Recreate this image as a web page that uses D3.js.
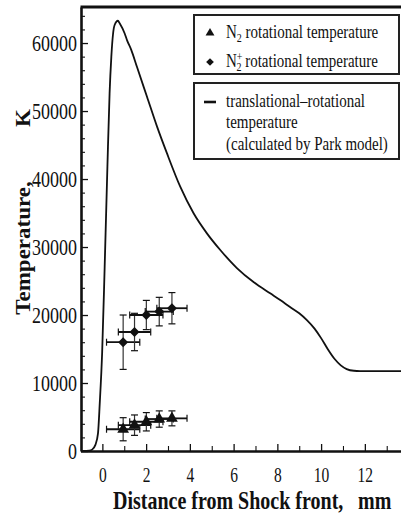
<!DOCTYPE html>
<html>
<head>
<meta charset="utf-8">
<script src="https://cdn.jsdelivr.net/npm/d3@7"></script>
<style>
  body { margin: 0; background: #fff; }
  text { font-family: "Liberation Serif", "Times New Roman", serif; fill: #111; }
</style>
</head>
<body>
<svg id="chart" width="401" height="520"></svg>
<script>
// tick labels
const xTicks = [0, 2, 4, 6, 8, 10, 12, 14];
const yTicks = [0, 10000, 20000, 30000, 40000, 50000, 60000];

// N2 rotational temperature (triangles)
const n2X = [0.95, 1.47, 2.01, 2.60, 3.18];
const n2XErr = [0.76, 0.74, 0.76, 0.64, 0.69];
const n2T = [3200, 3800, 4300, 4700, 4800];
const n2TErr = [1700, 1500, 1350, 1200, 1100];

// N2+ rotational temperature (diamonds)
const n2pX = [0.95, 1.47, 2.01, 2.60, 3.18];
const n2pXErr = [0.76, 0.74, 0.76, 0.64, 0.69];
const n2pT = [16000, 17500, 20000, 20500, 21000];
const n2pTErr = [4000, 2750, 2150, 2100, 2300];

// translational-rotational temperature (Park model)
const parkX = [-0.95, -0.6, -0.47, -0.32, -0.2, -0.12, -0.01, 0.105, 0.23, 0.33, 0.41, 0.49,
  0.56, 0.71, 0.79, 1.02, 1.13, 1.32, 1.58, 2.04, 2.50, 2.95, 3.56, 4.17, 4.78, 5.39,
  6.15, 6.91, 7.67, 8.13, 8.58, 9.0, 9.35, 9.7, 10.0, 10.3, 10.6, 10.9, 11.17, 11.5, 11.78, 13.8];
const parkT = [0, 50, 200, 900, 2600, 7000, 14500, 27100, 41800, 52600, 58000, 61400,
  62650, 63280, 62900, 61400, 60400, 59000, 56500, 52100, 47700, 43800, 38870, 34960, 32010, 29560,
  26910, 24850, 23190, 22200, 21180, 20250, 19250, 18000, 16600, 15000, 13600, 12600, 12050, 11800, 11760, 11760];

const svg = d3.select("#chart");

// scales
const x = d3.scaleLinear().domain([-1, 14]).range([80.5, 408.6]);
const y = d3.scaleLinear().domain([0, 65300]).range([451, 7]);

// minor ticks
svg.append("g")
  .attr("transform", "translate(0,451)")
  .call(d3.axisBottom(x).tickValues(d3.range(1, 14, 2)).tickSizeInner(-5).tickSizeOuter(0).tickFormat(""))
  .call(g => g.select(".domain").remove())
  .call(g => g.selectAll("line").attr("stroke", "#111").attr("stroke-width", 1.1));
svg.append("g")
  .attr("transform", "translate(81,0)")
  .call(d3.axisLeft(y).tickValues(d3.range(2000, 65000, 2000).filter(v => v % 10000)).tickSizeInner(-4).tickSizeOuter(0).tickFormat(""))
  .call(g => g.select(".domain").remove())
  .call(g => g.selectAll("line").attr("stroke", "#111").attr("stroke-width", 1.1));

// x axis
const xAxis = svg.append("g")
  .attr("transform", "translate(0,451)")
  .call(d3.axisBottom(x).tickValues(xTicks).tickSizeInner(-7).tickSizeOuter(0));
xAxis.select(".domain").attr("stroke", "#111").attr("stroke-width", 2.6);
xAxis.selectAll(".tick line").attr("stroke", "#111").attr("stroke-width", 1.3);
xAxis.selectAll(".tick text")
  .attr("y", 0).attr("dy", null)
  .attr("transform", "translate(0,31) scale(1,1.35)")
  .style("font-size", "15.5px");

// y axis
const yAxis = svg.append("g")
  .attr("transform", "translate(81,0)")
  .call(d3.axisLeft(y).tickValues(yTicks).tickSizeInner(-7).tickSizeOuter(0).tickFormat(d3.format("d")));
yAxis.select(".domain").attr("stroke", "#111").attr("stroke-width", 2.6);
yAxis.selectAll(".tick line").attr("stroke", "#111").attr("stroke-width", 1.3);
yAxis.selectAll(".tick text")
  .attr("x", 0).attr("dy", null)
  .attr("transform", "translate(-4,7.5) scale(1,1.25)")
  .style("font-size", "18px");

// top frame line
svg.append("line")
  .attr("x1", x(-1)).attr("x2", 401)
  .attr("y1", y(65300)).attr("y2", y(65300))
  .attr("stroke", "#111").attr("stroke-width", 3);

// Park model curve
const park = parkX.map((v, i) => [v, parkT[i]]);
svg.append("path")
  .datum(park)
  .attr("fill", "none")
  .attr("stroke", "#111")
  .attr("stroke-width", 1.8)
  .attr("d", d3.line().x(d => x(d[0])).y(d => y(d[1])).curve(d3.curveMonotoneX));

// error bars + markers
function drawSeries(xs, xe, ts, te, symbol) {
  const g = svg.append("g");
  xs.forEach((xv, i) => {
    const cx = x(xv), cy = y(ts[i]);
    const x0 = x(xv - xe[i]), x1 = x(xv + xe[i]);
    const y0 = y(ts[i] - te[i]), y1 = y(ts[i] + te[i]);
    g.append("line").attr("x1", x0).attr("x2", x1).attr("y1", cy).attr("y2", cy)
      .attr("stroke", "#111").attr("stroke-width", 1.8);
    [x0, x1].forEach(px => g.append("line").attr("x1", px).attr("x2", px).attr("y1", cy - 3.5).attr("y2", cy + 3.5)
      .attr("stroke", "#111").attr("stroke-width", 1.2));
    g.append("line").attr("x1", cx).attr("x2", cx).attr("y1", y0).attr("y2", y1)
      .attr("stroke", "#333").attr("stroke-width", 1.2);
    [y0, y1].forEach(py => g.append("line").attr("x1", cx - 3.5).attr("x2", cx + 3.5).attr("y1", py).attr("y2", py)
      .attr("stroke", "#111").attr("stroke-width", 1.2));
    g.append("path").attr("d", symbol.path)
      .attr("transform", `translate(${cx},${cy}) rotate(${symbol.rot})`)
      .attr("fill", "#111");
  });
}
const triangle = { path: d3.symbol(d3.symbolTriangle, 60)(), rot: 0 };
const diamond = { path: d3.symbol(d3.symbolSquare, 50)(), rot: 45 };
drawSeries(n2X, n2XErr, n2T, n2TErr, triangle);
drawSeries(n2pX, n2pXErr, n2pT, n2pTErr, diamond);

// legend
const legend = svg.append("g");
legend.append("rect").attr("x", 194).attr("y", 15).attr("width", 205).attr("height", 59)
  .attr("fill", "#fff").attr("stroke", "#222").attr("stroke-width", 2);
legend.append("rect").attr("x", 194).attr("y", 83).attr("width", 205).attr("height", 76)
  .attr("fill", "#fff").attr("stroke", "#222").attr("stroke-width", 2);

legend.append("path").attr("d", d3.symbol(d3.symbolTriangle, 34)())
  .attr("transform", "translate(210,33)").attr("fill", "#111");
legend.append("path").attr("d", d3.symbol(d3.symbolSquare, 30)())
  .attr("transform", "translate(210,62) rotate(45)").attr("fill", "#111");
legend.append("line").attr("x1", 204).attr("x2", 216).attr("y1", 102).attr("y2", 102)
  .attr("stroke", "#111").attr("stroke-width", 2.6);

function legendText(xp, base) {
  return legend.append("text")
    .attr("transform", `translate(${xp},${base}) scale(1,1.3)`)
    .style("font-size", "15px");
}
const l1 = legendText(226, 38);
l1.append("tspan").text("N");
l1.append("tspan").attr("dy", 3).style("font-size", "10px").text("2");
l1.append("tspan").attr("dy", -3).text(" rotational temperature");

const l2 = legendText(226, 67);
l2.append("tspan").text("N");
l2.append("tspan").attr("dy", -5).style("font-size", "10px").text("+");
l2.append("tspan").attr("dx", -6).attr("dy", 8).style("font-size", "10px").text("2");
l2.append("tspan").attr("dy", -3).text(" rotational temperature");

legendText(226, 107).text("translational\u2013rotational");
legendText(226, 128).text("temperature");
legendText(226, 150).text("(calculated by Park model)");

// axis titles
svg.append("text")
  .attr("transform", "translate(113,509) scale(1,1.3)")
  .style("font-size", "20px").style("font-weight", "bold")
  .text("Distance from Shock front,");
svg.append("text")
  .attr("transform", "translate(358,509) scale(1,1.3)")
  .style("font-size", "20px").style("font-weight", "bold")
  .text("mm");

svg.append("text")
  .attr("transform", "translate(30,248) rotate(-90) scale(1.15,1)")
  .attr("text-anchor", "middle")
  .style("font-size", "20px").style("font-weight", "bold")
  .text("Temperature,");
svg.append("text")
  .attr("transform", "translate(30,118) rotate(-90) scale(1.15,1)")
  .attr("text-anchor", "middle")
  .style("font-size", "20px").style("font-weight", "bold")
  .text("K");
</script>
</body>
</html>
